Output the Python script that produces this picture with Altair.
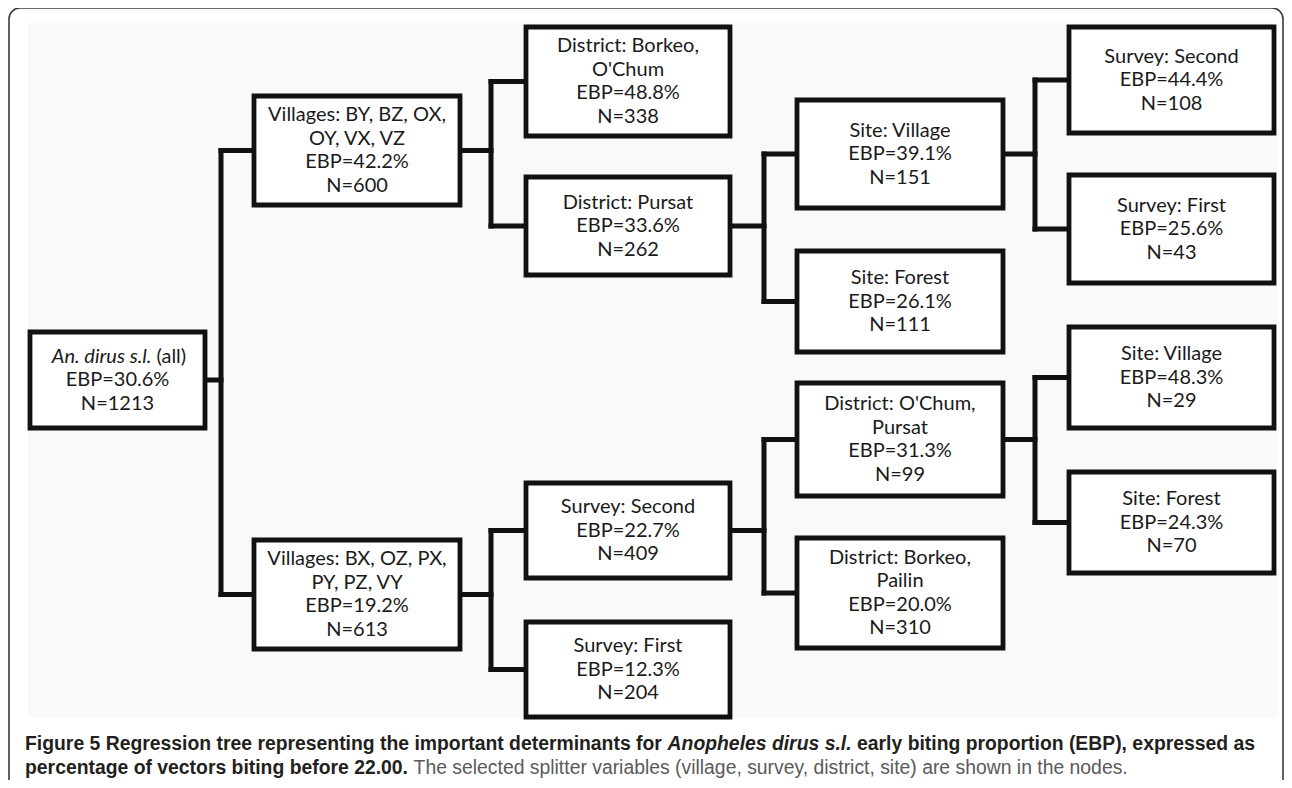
import altair as alt
import pandas as pd

# ---------------- data ----------------
node_split = [
    "An. dirus s.l. (all)",
    "Villages: BY, BZ, OX,\nOY, VX, VZ",
    "Villages: BX, OZ, PX,\nPY, PZ, VY",
    "District: Borkeo,\nO'Chum",
    "District: Pursat",
    "Site: Village",
    "Site: Forest",
    "Survey: Second",
    "Survey: First",
    "Survey: Second",
    "Survey: First",
    "District: O'Chum,\nPursat",
    "District: Borkeo,\nPailin",
    "Site: Village",
    "Site: Forest",
]
node_ebp = [30.6, 42.2, 19.2, 48.8, 33.6, 39.1, 26.1, 44.4, 25.6, 22.7, 12.3, 31.3, 20.0, 48.3, 24.3]
node_n = [1213, 600, 613, 338, 262, 151, 111, 108, 43, 409, 204, 99, 310, 29, 70]
node_parent = [None, 0, 0, 1, 1, 4, 4, 5, 5, 2, 2, 9, 9, 11, 11]

caption1_a = "Figure 5 Regression tree representing the important determinants for"
caption1_b = "Anopheles dirus s.l."
caption1_c = "early biting proportion (EBP), expressed as"
caption2_a = "percentage of vectors biting before 22.00."
caption2_b = "The selected splitter variables (village, survey, district, site) are shown in the nodes."

# ---------------- layout (page pixel space) ----------------
col_left = [30, 254, 526, 797, 1069]
col_right = [205, 460, 730, 1003, 1274]
bus_x = [221, 491, 764, 1035]
box_top = [332, 96, 540, 27, 177, 100, 251, 27, 175, 483, 622, 383, 538, 327, 472]
box_bottom = [428, 205, 649, 136, 275, 208, 352, 133, 283, 578, 717, 496, 648, 428, 573]

LH = 23.5
NODE_FONT = "Lato"
NODE_SIZE = 20

depth = []
for i, p in enumerate(node_parent):
    depth.append(0 if p is None else depth[p] + 1)

rows = []
for i in range(len(node_split)):
    d = depth[i]
    x0, x1 = col_left[d], col_right[d]
    y0, y1 = box_top[i], box_bottom[i]
    yc = (y0 + y1) / 2
    if i == 0:
        txt = f"EBP={node_ebp[i]:.1f}%\nN={node_n[i]}"
        ty = yc  # first of the two lower lines sits at the centre
    else:
        txt = f"{node_split[i]}\nEBP={node_ebp[i]:.1f}%\nN={node_n[i]}"
        nl = txt.count("\n") + 1
        ty = yc - (nl - 1) * LH / 2
    rows.append(dict(x0=x0, x1=x1, y0=y0, y1=y1, xc=(x0 + x1) / 2, yc=yc, ty=ty, txt=txt))
nodes = pd.DataFrame(rows)

segs = []
for p in range(len(node_split)):
    kids = [i for i, q in enumerate(node_parent) if q == p]
    if not kids:
        continue
    d = depth[p]
    bx = bus_x[d]
    pr = rows[p]
    segs.append(dict(x=pr["x1"], x2=bx, y=pr["yc"], y2=pr["yc"]))
    kys = [rows[k]["yc"] for k in kids]
    segs.append(dict(x=bx, x2=bx, y=min(kys), y2=max(kys)))
    for k in kids:
        segs.append(dict(x=bx, x2=rows[k]["x0"], y=rows[k]["yc"], y2=rows[k]["yc"]))
conn = pd.DataFrame(segs)

# ---- caption text placement using Arial (Liberation Sans) metrics ----
BOLD = {' ': 278, '(': 333, ')': 333, ',': 278, '.': 278, '-': 333, ':': 333, '0': 556, '1': 556, '2': 556,
        '3': 556, '4': 556, '5': 556, 'A': 722, 'B': 722, 'C': 722, 'D': 722, 'E': 667, 'F': 611, 'N': 722,
        'P': 667, 'R': 722, 'T': 611, 'a': 556, 'b': 611, 'c': 556, 'd': 611, 'e': 556, 'f': 333, 'g': 611,
        'h': 611, 'i': 278, 'j': 278, 'k': 556, 'l': 278, 'm': 889, 'n': 611, 'o': 611, 'p': 611, 'q': 611,
        'r': 389, 's': 556, 't': 333, 'u': 611, 'v': 556, 'w': 778, 'x': 556, 'y': 556, 'z': 500}


def units(s, table):
    return sum(table.get(c, 556) for c in s)


CAP_X = 25
CAP_W = 1230
u1 = units(caption1_a + " " + caption1_b + " " + caption1_c, BOLD)
CAP_SIZE = round(CAP_W / (u1 / 1000), 2)
sp_b = BOLD[' '] / 1000 * CAP_SIZE
xa = CAP_X
xb = xa + units(caption1_a, BOLD) / 1000 * CAP_SIZE + sp_b
xc = xb + units(caption1_b, BOLD) / 1000 * CAP_SIZE + sp_b
x2b = CAP_X + units(caption2_a, BOLD) / 1000 * CAP_SIZE + sp_b
CAP_Y1, CAP_Y2 = 744, 768
cap = pd.DataFrame([
    dict(x=xa, y=CAP_Y1, t=caption1_a, style="b"),
    dict(x=xb, y=CAP_Y1, t=caption1_b, style="bi"),
    dict(x=xc, y=CAP_Y1, t=caption1_c, style="b"),
    dict(x=CAP_X, y=CAP_Y2, t=caption2_a, style="b"),
    dict(x=x2b, y=CAP_Y2, t=caption2_b, style="r"),
])

# root first line: italic species name + "(all)"
root = rows[0]
w_it = 103
w_all = 30
w_sp = 5
start = root["xc"] - (w_it + w_sp + w_all) / 2
root_l1 = pd.DataFrame([
    dict(x=start + w_it, y=root["yc"] - LH, t="An. dirus s.l.", st="italic"),
    dict(x=start + w_it + w_sp, y=root["yc"] - LH, t="(all)", st="normal"),
])

# ---------------- chart ----------------
X = alt.Scale(domain=[8, 1284], nice=False, zero=False)
Y = alt.Scale(domain=[8, 780], nice=False, zero=False, reverse=True)


def xq(f):
    return alt.X(f, type="quantitative", scale=X, axis=None)


def yq(f):
    return alt.Y(f, type="quantitative", scale=Y, axis=None)


bg = pd.DataFrame([dict(x0=28, x1=1277, y0=23, y1=718)])
panel = alt.Chart(bg).mark_rect(fill="#f9f9f9").encode(
    x=xq("x0"), x2="x1", y=yq("y0"), y2="y1")

frame_df = pd.DataFrame([dict(x0=9, x1=1283, y0=8, y1=800)])
frame = alt.Chart(frame_df).mark_rect(fill=None, stroke="#3a3a3a", strokeWidth=1.6,
                                      cornerRadius=11, clip=True).encode(
    x=xq("x0"), x2="x1", y=yq("y0"), y2="y1")

lines = alt.Chart(conn).mark_rule(color="#111111", strokeWidth=5, strokeCap="square").encode(
    x=xq("x"), x2="x2", y=yq("y"), y2="y2")

boxes = alt.Chart(nodes).mark_rect(fill="white", stroke="#111111", strokeWidth=4.8,
                                   strokeJoin="miter").encode(
    x=xq("x0"), x2="x1", y=yq("y0"), y2="y1")

labels = alt.Chart(nodes).mark_text(font=NODE_FONT, fontSize=NODE_SIZE, lineHeight=LH,
                                    lineBreak="\n", align="center", baseline="middle",
                                    color="#1a1a1a").encode(
    x=xq("xc"), y=yq("ty"), text="txt:N")

root_it = alt.Chart(root_l1[root_l1.st == "italic"]).mark_text(
    font=NODE_FONT, fontSize=NODE_SIZE, fontStyle="italic", align="right", baseline="middle",
    color="#1a1a1a").encode(x=xq("x"), y=yq("y"), text="t:N")
root_no = alt.Chart(root_l1[root_l1.st == "normal"]).mark_text(
    font=NODE_FONT, fontSize=NODE_SIZE, align="left", baseline="middle",
    color="#1a1a1a").encode(x=xq("x"), y=yq("y"), text="t:N")

cap_b = alt.Chart(cap[cap["style"] == "b"]).mark_text(
    font="Liberation Sans", fontSize=CAP_SIZE, fontWeight="bold", align="left", baseline="middle",
    color="#231f20").encode(x=xq("x"), y=yq("y"), text="t:N")
cap_bi = alt.Chart(cap[cap["style"] == "bi"]).mark_text(
    font="Liberation Sans", fontSize=CAP_SIZE, fontWeight="bold", fontStyle="italic", align="left",
    baseline="middle", color="#231f20").encode(x=xq("x"), y=yq("y"), text="t:N")
cap_r = alt.Chart(cap[cap["style"] == "r"]).mark_text(
    font="Liberation Sans", fontSize=CAP_SIZE, align="left", baseline="middle",
    color="#5a5a5a").encode(x=xq("x"), y=yq("y"), text="t:N")

chart = alt.layer(panel, frame, lines, boxes, labels, root_it, root_no, cap_b, cap_bi, cap_r).properties(
    width=1276, height=772, padding=0, autosize=alt.AutoSizeParams(type="none"),
    background="white").configure_view(stroke=None)

chart.save("out.html", embed_options={"renderer": "svg", "actions": False})
